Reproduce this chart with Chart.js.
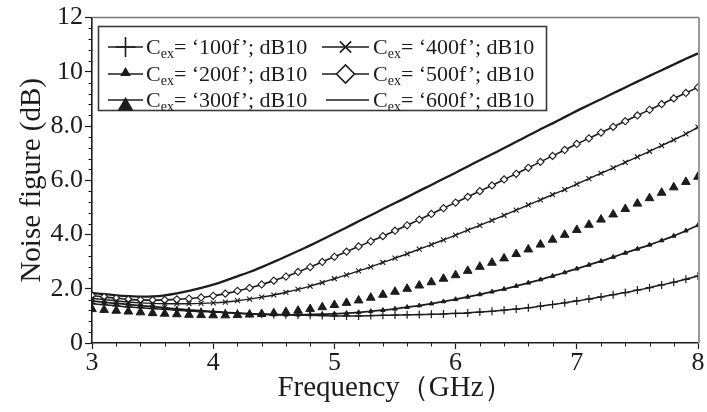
<!DOCTYPE html>
<html><head><meta charset="utf-8">
<script src="https://cdn.jsdelivr.net/npm/chart.js@4.4.1/dist/chart.umd.min.js"></script>
<style>html,body{margin:0;padding:0;background:#fff;}#wrap{width:707px;height:412px;position:relative;}</style>
</head><body><div id="wrap"><canvas id="c" width="707" height="412"></canvas></div>
<script>
const freqGHz = [3.0,3.1,3.2,3.3,3.4,3.5,3.6,3.7,3.8,3.9,4.0,4.1,4.2,4.3,4.4,4.5,4.6,4.7,4.8,4.9,5.0,5.1,5.2,5.3,5.4,5.5,5.6,5.7,5.8,5.9,6.0,6.1,6.2,6.3,6.4,6.5,6.6,6.7,6.8,6.9,7.0,7.1,7.2,7.3,7.4,7.5,7.6,7.7,7.8,7.9,8.0];
const nf100f = [1.45,1.41,1.37,1.33,1.30,1.27,1.24,1.21,1.18,1.16,1.14,1.12,1.10,1.08,1.06,1.05,1.04,1.03,1.02,1.01,1.00,1.00,1.00,1.01,1.02,1.03,1.04,1.05,1.06,1.07,1.09,1.11,1.14,1.17,1.21,1.25,1.30,1.36,1.42,1.48,1.55,1.62,1.70,1.78,1.86,1.95,2.04,2.14,2.24,2.35,2.47];
const nf200f = [1.55,1.50,1.46,1.42,1.38,1.34,1.30,1.26,1.22,1.19,1.16,1.13,1.10,1.08,1.06,1.05,1.04,1.04,1.05,1.06,1.08,1.10,1.13,1.17,1.21,1.26,1.32,1.38,1.45,1.53,1.61,1.70,1.79,1.89,1.99,2.10,2.22,2.34,2.47,2.60,2.74,2.88,3.02,3.17,3.32,3.47,3.62,3.78,3.95,4.14,4.34];
const nf300f = [1.25,1.22,1.19,1.16,1.13,1.10,1.08,1.06,1.04,1.03,1.02,1.02,1.03,1.05,1.07,1.10,1.14,1.19,1.25,1.32,1.40,1.48,1.57,1.67,1.78,1.89,2.00,2.12,2.24,2.37,2.50,2.66,2.81,2.96,3.12,3.28,3.45,3.63,3.81,3.99,4.17,4.36,4.55,4.74,4.94,5.14,5.34,5.54,5.74,5.94,6.13];
const nf400f = [1.65,1.60,1.55,1.51,1.48,1.46,1.45,1.45,1.45,1.46,1.48,1.51,1.56,1.62,1.69,1.77,1.87,1.98,2.10,2.23,2.37,2.51,2.66,2.81,2.97,3.13,3.29,3.46,3.63,3.80,3.98,4.16,4.34,4.52,4.71,4.90,5.09,5.28,5.47,5.66,5.86,6.06,6.26,6.46,6.66,6.86,7.07,7.28,7.49,7.71,7.96];
const nf500f = [1.75,1.70,1.65,1.61,1.59,1.58,1.59,1.61,1.64,1.68,1.74,1.82,1.92,2.03,2.16,2.30,2.45,2.62,2.80,2.99,3.18,3.37,3.56,3.75,3.94,4.14,4.34,4.55,4.76,4.97,5.18,5.39,5.60,5.81,6.03,6.24,6.46,6.68,6.90,7.12,7.34,7.55,7.76,7.97,8.18,8.39,8.60,8.81,9.02,9.22,9.43];
const nf600f = [1.85,1.80,1.76,1.73,1.71,1.72,1.76,1.83,1.92,2.03,2.15,2.30,2.46,2.62,2.80,2.99,3.19,3.39,3.60,3.82,4.04,4.26,4.49,4.71,4.94,5.16,5.38,5.61,5.83,6.06,6.28,6.51,6.74,6.96,7.19,7.42,7.65,7.88,8.10,8.33,8.56,8.78,8.99,9.21,9.42,9.64,9.85,10.06,10.27,10.48,10.68];
const seriesNames = ['‘100f’','‘200f’','‘300f’','‘400f’','‘500f’','‘600f’'];
const xTickLabels = ['3','4','5','6','7','8'];
const yTickLabels = ['0','2.0','4.0','6.0','8.0','10','12'];

const INK = '#1c1c1c';
const SERIF = '"Liberation Serif", "Times New Roman", serif';
const allSeries = [nf100f, nf200f, nf300f, nf400f, nf500f, nf600f];
const styles = [
  {pointStyle:'cross', pointRadius:4, borderWidth:1.5, pointBorderWidth:1.2, showLine:true, bg:INK},
  {pointStyle:'triangle', pointRadius:2.6, borderWidth:1.8, pointBorderWidth:1, showLine:true, bg:INK},
  {pointStyle:'triangle', pointRadius:5, borderWidth:0, pointBorderWidth:1, showLine:false, bg:INK},
  {pointStyle:'crossRot', pointRadius:3.5, borderWidth:1.4, pointBorderWidth:1.1, showLine:true, bg:INK},
  {pointStyle:'rectRot', pointRadius:3.6, borderWidth:1.6, pointBorderWidth:1.1, showLine:true, bg:'#ffffff'},
  {pointStyle:'circle', pointRadius:0, borderWidth:2.3, pointBorderWidth:0, showLine:true, bg:INK}
];
const datasets = allSeries.map((vals, i) => ({
  label: 'Cex= ' + seriesNames[i] + '; dB10',
  data: vals.map((v, k) => ({x: freqGHz[k], y: v})),
  borderColor: INK,
  backgroundColor: styles[i].bg,
  pointBackgroundColor: styles[i].bg,
  pointBorderColor: INK,
  pointStyle: styles[i].pointStyle,
  pointRadius: styles[i].pointRadius,
  pointBorderWidth: styles[i].pointBorderWidth,
  borderWidth: styles[i].borderWidth,
  showLine: styles[i].showLine,
  tension: 0.3,
  fill: false
}));

const legendLayout = [
  {ds:0, lx0:108, lx1:143, tx:146, y:47},
  {ds:1, lx0:108, lx1:143, tx:146, y:74},
  {ds:2, lx0:108, lx1:143, tx:146, y:100},
  {ds:3, lx0:322, lx1:369, tx:373, y:47},
  {ds:4, lx0:322, lx1:369, tx:373, y:74},
  {ds:5, lx0:326, lx1:369, tx:373, y:100}
];
const legendMarker = [
  {style:'cross', r:10, dy:0, bw:1.6},
  {style:'triangle', r:4.5, dy:-1, bw:1},
  {style:'triangle', r:7.5, dy:6, bw:1},
  {style:'crossRot', r:8, dy:0, bw:1.6},
  {style:'rectRot', r:9, dy:0, bw:1.6},
  null
];

const framePlugin = {
  id: 'frame',
  afterDraw(chart) {
    const {ctx, chartArea: a, scales: {x, y}} = chart;
    ctx.save();
    ctx.strokeStyle = '#777';
    ctx.lineWidth = 1.5;
    ctx.beginPath(); ctx.moveTo(a.left, a.top); ctx.lineTo(a.right + 1, a.top); ctx.stroke();
    ctx.strokeStyle = '#999';
    ctx.lineWidth = 2;
    ctx.beginPath(); ctx.moveTo(a.right + 1, a.top); ctx.lineTo(a.right + 1, a.bottom); ctx.stroke();
    ctx.strokeStyle = INK; ctx.lineWidth = 1;
    for (let k = 0; k <= 25; k++) {
      if (k % 5 === 0) continue;
      const px = Math.round(x.getPixelForValue(3 + k * 0.2)) + 0.5;
      ctx.beginPath(); ctx.moveTo(px, a.bottom); ctx.lineTo(px, a.bottom + 3.5); ctx.stroke();
    }
    for (let k = 0; k <= 30; k++) {
      if (k % 5 === 0) continue;
      const py = Math.round(y.getPixelForValue(k * 0.4)) + 0.5;
      ctx.beginPath(); ctx.moveTo(a.left, py); ctx.lineTo(a.left - 3.5, py); ctx.stroke();
    }
    ctx.fillStyle = '#fff';
    ctx.fillRect(98, 26, 448, 84);
    ctx.strokeStyle = '#3a3a3a'; ctx.lineWidth = 1.6;
    ctx.strokeRect(98.5, 26.5, 448, 84);
    legendLayout.forEach((it, i) => {
      ctx.strokeStyle = INK; ctx.lineWidth = 1.6;
      ctx.beginPath(); ctx.moveTo(it.lx0, it.y); ctx.lineTo(it.lx1, it.y); ctx.stroke();
      const m = legendMarker[i];
      if (m) {
        ctx.fillStyle = i === 4 ? '#fff' : INK;
        ctx.strokeStyle = INK;
        Chart.helpers.drawPoint(ctx, {pointStyle: m.style, radius: m.r, borderWidth: m.bw, rotation: 0}, (it.lx0 + it.lx1) / 2, it.y + m.dy);
      }
      ctx.fillStyle = INK;
      ctx.textBaseline = 'middle';
      ctx.textAlign = 'left';
      ctx.font = '22px ' + SERIF;
      let tx = it.tx;
      ctx.fillText('C', tx, it.y + 1);
      tx += ctx.measureText('C').width;
      ctx.font = '14px ' + SERIF;
      ctx.fillText('ex', tx, it.y + 7);
      tx += ctx.measureText('ex').width;
      ctx.font = '22px ' + SERIF;
      ctx.fillText('= ' + seriesNames[it.ds] + '; dB10', tx, it.y + 1);
    });
    ctx.restore();
  }
};

new Chart(document.getElementById('c'), {
  type: 'line',
  data: { datasets },
  options: {
    responsive: false,
    animation: false,
    devicePixelRatio: 1,
    layout: { padding: { top: 17, right: 9, left: 0, bottom: 0 } },
    plugins: { legend: { display: false }, tooltip: { enabled: false } },
    scales: {
      x: {
        type: 'linear', min: 3, max: 8,
        afterFit(s) { s.height = 69; },
        afterBuildTicks(s) { s.ticks = xTickLabels.map(t => ({value: Number(t)})); },
        ticks: { stepSize: 1, color: INK, padding: -1, font: { family: SERIF, size: 26 },
                 callback: (v) => xTickLabels[xTickLabels.indexOf(String(v))] },
        grid: { drawOnChartArea: false, color: INK, tickLength: 6, tickWidth: 1.2 },
        border: { color: INK, width: 1.6 },
        title: { display: true, text: 'Frequency（GHz）', color: INK, font: { family: SERIF, size: 29 }, padding: { top: 0, bottom: 6 } }
      },
      y: {
        min: 0, max: 12,
        afterFit(s) { s.width = 92; },
        afterBuildTicks(s) { s.ticks = yTickLabels.map((t, i) => ({value: i * 2})); },
        ticks: { stepSize: 2, color: INK, padding: 2, font: { family: SERIF, size: 26 },
                 callback: (v) => yTickLabels[Math.round(v / 2)] },
        grid: { drawOnChartArea: false, color: INK, tickLength: 7, tickWidth: 1.2 },
        border: { color: INK, width: 1.6 },
        title: { display: true, text: 'Noise figure (dB)', color: INK, font: { family: SERIF, size: 29 }, padding: { top: 15, bottom: 0 } }
      }
    }
  },
  plugins: [framePlugin]
});
</script>
</body></html>
